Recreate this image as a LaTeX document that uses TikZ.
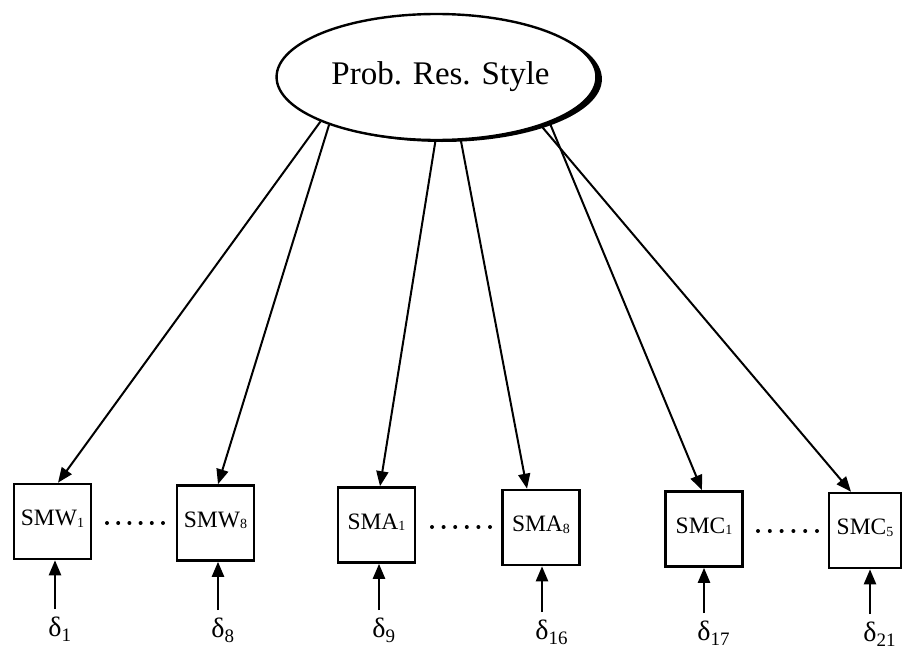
\documentclass[tikz,border=0pt]{standalone}
\usepackage{fontspec}
\setmainfont{Liberation Serif}
\usetikzlibrary{arrows.meta,shapes.geometric,shadows}
% small index inside the indicator boxes
\newcommand\boxsub[1]{\raisebox{-1.5pt}{\fontsize{14}{14}\selectfont #1}}
% index of an error term, kept out of the node width so the node centres on the delta
\newcommand\errsub[1]{\rlap{\raisebox{-5pt}{\fontsize{19}{19}\selectfont #1}}}
% indicator label, baseline a little below the box centre
\newcommand\indlabel[1]{\raisebox{-4pt}[0pt][0pt]{#1}}

\begin{document}
\begin{tikzpicture}[x=1pt,y=-1pt,
  latent/.style={ellipse, draw, line width=2.4pt, fill=white,
    minimum width=251pt, minimum height=126pt, inner sep=0pt,
    drop shadow={shadow xshift=5.5pt, shadow yshift=-2pt, opacity=1, fill=black},
    font=\fontsize{33}{33}\selectfont},
  indicator/.style={draw, line width=2.6pt, minimum width=77pt, minimum height=75pt,
    inner sep=0pt, font=\fontsize{23.5}{23.5}\selectfont},
  errterm/.style={inner sep=0pt, outer ysep=8pt, anchor=north,
    font=\fontsize{28}{28}\selectfont},
  load/.style={line width=2pt, -{Triangle[length=15pt,width=12pt]}},
  errpath/.style={line width=2.4pt, -{Triangle[length=15pt,width=12pt]}},
  dotmark/.style={fill=black}
]
\useasboundingbox (0,0) rectangle (902,653);

% latent factor
\node[latent] (lat) at (436.5,77) {\hspace{8pt}Prob. Res. Style};

% indicators
\node[indicator] (smw1) at (52.5,521.5) {\indlabel{SMW\boxsub{1}}};
\node[indicator] (smw8) at (215.5,523) {\indlabel{SMW\boxsub{8}}};
\node[indicator] (sma1) at (376.5,525) {\indlabel{SMA\boxsub{1}}};
\node[indicator] (sma8) at (541,527.5) {\indlabel{SMA\boxsub{8}}};
\node[indicator] (smc1) at (704,529) {\indlabel{SMC\boxsub{1}}};
\node[indicator, minimum width=72pt] (smc5) at (865,530.5) {\indlabel{SMC\boxsub{5}}};

% error terms
\node[errterm] (d1)  at (55,609)  {δ\errsub{1}};
\node[errterm] (d8)  at (218,610) {δ\errsub{8}};
\node[errterm] (d9)  at (379,610) {δ\errsub{9}};
\node[errterm] (d16) at (542,612) {δ\errsub{16}};
\node[errterm] (d17) at (704,613) {δ\errsub{17}};
\node[errterm] (d21) at (870,614) {δ\errsub{21}};

% factor loadings
\draw[load] (lat.201) -- ([xshift=5.5pt]smw1.north);
\draw[load] (lat.204) -- ([xshift=2.5pt]smw8.north);
\draw[load] (lat.269) -- ([xshift=3.5pt]sma1.north);
\draw[load] (lat.291) -- ([xshift=-14pt]sma8.north);
\draw[load] (lat.338) -- ([xshift=-2pt]smc1.north);
\draw[load] (lat.335) -- ([xshift=-14pt]smc5.north);

% measurement errors
\foreach \d/\b in {d1/smw1, d8/smw8, d9/sma1, d16/sma8, d17/smc1, d21/smc5}
  \draw[errpath] (\d.north) -- (\d.north |- \b.south);

% ellipsis dots between the first and last indicator of each block
\foreach \i in {0,...,5} {
  \fill[dotmark] (107+11.2*\i,523) circle (2pt);
  \fill[dotmark] (432+11.6*\i,527) circle (2pt);
  \fill[dotmark] (758+11.8*\i,531) circle (2pt);
}
\end{tikzpicture}
\end{document}
